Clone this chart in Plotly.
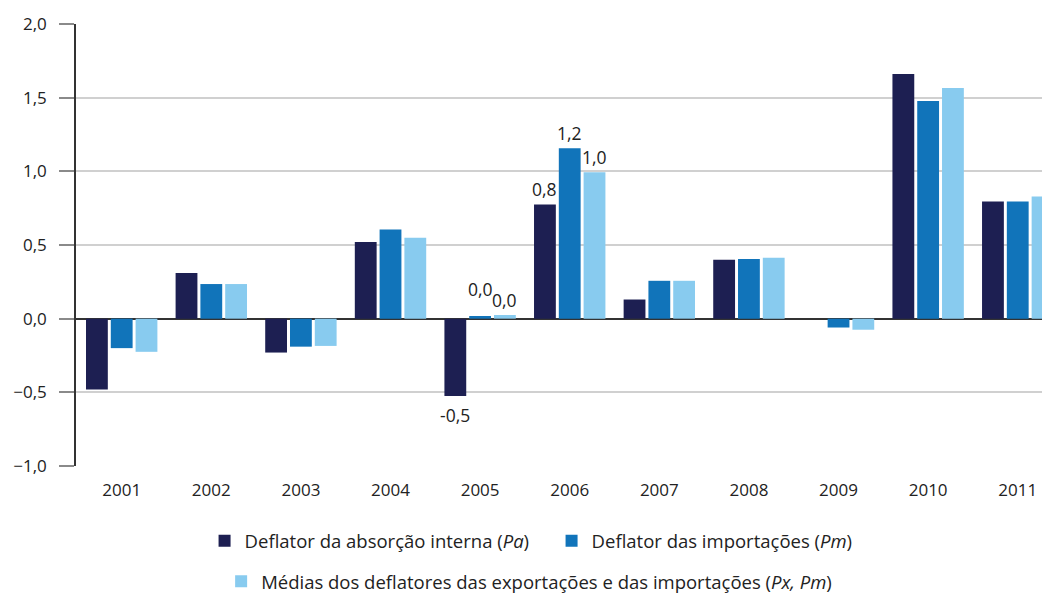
import plotly.graph_objects as go

years = ["2001", "2002", "2003", "2004", "2005", "2006", "2007", "2008", "2009", "2010", "2011"]
pa = [-0.48, 0.31, -0.23, 0.52, -0.525, 0.775, 0.13, 0.40, 0.0, 1.66, 0.795]
pm = [-0.20, 0.235, -0.19, 0.605, 0.018, 1.157, 0.257, 0.405, -0.06, 1.477, 0.795]
px = [-0.225, 0.235, -0.185, 0.55, 0.025, 0.993, 0.257, 0.413, -0.075, 1.566, 0.83]
labeled_years = ["2005", "2006"]

y_ticks = [-1.0, -0.5, 0.0, 0.5, 1.0, 1.5, 2.0]

names = [
    "Deflator da absorção interna (<i>Pa</i>)",
    "Deflator das importações (<i>Pm</i>)",
    "Médias dos deflatores das exportações e das importações (<i>Px, Pm</i>)",
]
colors = ["#1d1f52", "#1174ba", "#88cbef"]
legends = ["legend", "legend", "legend2"]
FONT = "Open Sans"

# layout geometry (page body has an 8px margin)
W, H = 1042, 585
ML, MT, MB = 68, 16, 127
X_RANGE = [-0.51, 10.36]
BARGAP, GROUPGAP = 0.17, 0.12
plot_w = W - ML
cat_px = plot_w / (X_RANGE[1] - X_RANGE[0])
slot_px = cat_px * (1 - BARGAP) / 3
extra_shift = {("2005", 1): 12}

fig = go.Figure()
for vals, name, col, lg in zip([pa, pm, px], names, colors, legends):
    fig.add_trace(go.Bar(
        x=years, y=vals, name=name, marker=dict(color=col, line=dict(width=0)),
        legend=lg,
    ))

annotations = []
for i, vals in enumerate([pa, pm, px]):
    for k, (y, v) in enumerate(zip(years, vals)):
        if y not in labeled_years:
            continue
        pos = v >= 0
        annotations.append(dict(
            x=k, y=v, xref="x", yref="y", showarrow=False,
            text=f"{v:.1f}".replace(".", ","),
            xshift=(i - 1) * slot_px,
            yanchor="bottom" if pos else "top",
            yshift=(1 + extra_shift.get((y, i), 0)) if pos else -5,
            font=dict(size=17.5, color="#222222", family=FONT),
        ))

fig.update_layout(
    template="none",
    width=W, height=H,
    margin=dict(l=ML, r=0, t=MT, b=MB, autoexpand=False),
    plot_bgcolor="white", paper_bgcolor="white",
    font=dict(family=FONT, size=17, color="#222222"),
    separators=", ",
    barmode="group", bargap=BARGAP, bargroupgap=GROUPGAP,
    showlegend=True,
    annotations=annotations,
    legend=dict(orientation="h", x=0.132, xanchor="left", y=-0.17, yanchor="middle",
                font=dict(size=18.5, color="#222222"), traceorder="normal",
                entrywidth=302, entrywidthmode="pixels",
                bgcolor="rgba(0,0,0,0)"),
    legend2=dict(orientation="h", x=0.149, xanchor="left", y=-0.262, yanchor="middle",
                 font=dict(size=18.5, color="#222222"), bgcolor="rgba(0,0,0,0)"),
)

fig.update_xaxes(
    type="category", range=X_RANGE, showgrid=False, showline=False,
    zeroline=False, automargin=False,
    ticks="", ticklabelstandoff=12, tickfont=dict(size=17, color="#222222"),
)
fig.update_yaxes(
    range=[-1.0, 2.0], tickvals=y_ticks, tickformat=".1f", automargin=False,
    showgrid=True, gridcolor="#d0d0d0", gridwidth=1.5,
    zeroline=True, zerolinecolor="#333333", zerolinewidth=1.5,
    showline=True, linecolor="#333333", linewidth=1.5,
    ticks="outside", ticklen=15, tickcolor="#8a8a8a", tickwidth=1.5,
    ticklabelstandoff=9, tickfont=dict(size=17, color="#222222"),
)

fig.write_html("out.html")
